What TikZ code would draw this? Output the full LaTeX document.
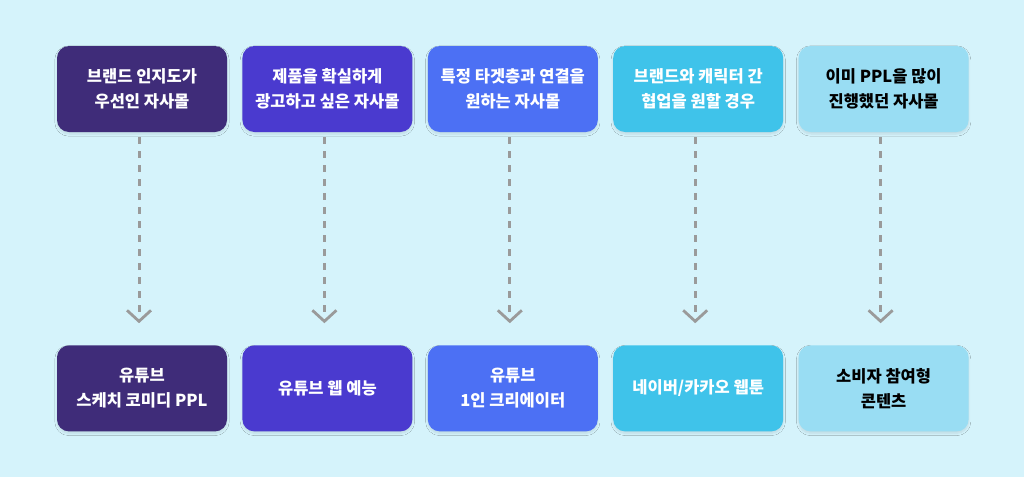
\documentclass[tikz,border=0pt]{standalone}
\usepackage{fontspec}
\usepackage{tikz}
\usepackage{xcolor}
\usetikzlibrary{arrows.meta,positioning,shadows.blur}
\setmainfont{Noto Sans CJK KR}

\definecolor{bgcyan}{HTML}{D5F3FB}
\definecolor{colA}{HTML}{3F2C79}
\definecolor{colB}{HTML}{4A3ACF}
\definecolor{colC}{HTML}{4C70F4}
\definecolor{colD}{HTML}{3FC3EA}
\definecolor{colE}{HTML}{99DDF3}
\definecolor{dashgray}{HTML}{9A9A9A}

\begin{document}
\begin{tikzpicture}[
    x=1pt, y=-1pt,
    node distance=213pt and 15pt,
    box/.style={rounded corners=12pt, align=center, minimum width=170pt, minimum height=86pt,
        inner sep=0pt, text=white, font=\fontsize{16.5}{25}\selectfont\bfseries,
        blur shadow={shadow xshift=0pt, shadow yshift=-2pt, shadow blur steps=6, shadow opacity=10}},
    flow/.style={dashgray, line width=3pt, dash pattern=on 7pt off 7pt,
        -{Straight Barb[length=11pt, width=24pt, line width=2.8pt]}, shorten <=5pt, shorten >=22pt}
]
% Background
\fill[bgcyan] (0,0) rectangle (1024,477);
\useasboundingbox (0,0) rectangle (1024,477);

% Top row
\node[box, fill=colA] (t1) at (142,89) {브랜드 인지도가\\우선인 자사몰};
\node[box, fill=colB, right=of t1] (t2) {제품을 확실하게\\광고하고 싶은 자사몰};
\node[box, fill=colC, right=of t2] (t3) {특정 타겟층과 연결을\\원하는 자사몰};
\node[box, fill=colD, right=of t3] (t4) {브랜드와 캐릭터 간\\협업을 원할 경우};
\node[box, fill=colE, text=black, right=of t4] (t5) {이미 PPL을 많이\\진행했던 자사몰};

% Bottom row
\node[box, fill=colA, below=of t1] (b1) {유튜브\\스케치 코미디 PPL};
\node[box, fill=colB, below=of t2] (b2) {유튜브 웹 예능};
\node[box, fill=colC, below=of t3] (b3) {유튜브\\1인 크리에이터};
\node[box, fill=colD, below=of t4] (b4) {네이버/카카오 웹툰};
\node[box, fill=colE, text=black, below=of t5] (b5) {소비자 참여형\\콘텐츠};

% Arrows
\foreach \i in {1,...,5}
    \draw[flow] ([xshift=-3pt]t\i.south) -- ([xshift=-3pt]b\i.north);
\end{tikzpicture}
\end{document}
